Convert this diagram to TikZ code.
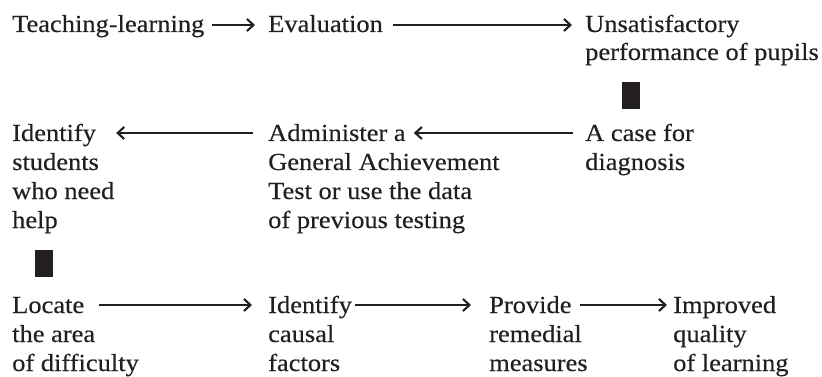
\documentclass[tikz,border=0pt]{standalone}
\usepackage{fontspec}
\setmainfont{Liberation Serif}[FakeStretch=1.08,FakeBold=0.35]
\usetikzlibrary{arrows.meta}
\definecolor{ink}{HTML}{231F20}
\begin{document}
\begin{tikzpicture}[x=1pt,y=-1pt,
  txt/.style={inner sep=0pt, anchor=base west, text=ink, font=\fontsize{24.5}{29}\selectfont},
  arr/.style={draw=ink, line width=1.6pt, -{Straight Barb[length=6.5pt,width=12pt,line width=2.1pt]}},
  blk/.style={fill=ink, draw=none, minimum width=18pt, minimum height=27pt, inner sep=0pt}]
\useasboundingbox (0,0) rectangle (822,377);
% row 1
\node[txt] (teach) at (12,32) {Teaching-learning};
\node[txt] (eval) at (268,32) {Evaluation};
\node[txt] (unsat) at (585,32) {Unsatisfactory};
\node[txt] (unsatb) at (585,60) {performance of pupils};
\node[blk] (d1) at (630.5,95.5) {};
% row 2
\node[txt] (case) at (585,141) {A case for};
\node[txt] (caseb) at (585,170) {diagnosis};
\node[txt] (admin) at (268,141) {Administer a};
\node[txt] (adminb) at (268,170) {General Achievement};
\node[txt] (adminc) at (268,199) {Test or use the data};
\node[txt] (admind) at (268,228) {of previous testing};
\node[txt] (ident) at (12,141) {Identify};
\node[txt] (identb) at (12,170) {students};
\node[txt] (identc) at (12,199) {who need};
\node[txt] (identd) at (12,228) {help};
\node[blk] (d2) at (44,263.5) {};
% row 3
\node[txt] (loc) at (12,313) {Locate};
\node[txt] (locb) at (12,342) {the area};
\node[txt] (locc) at (12,371) {of difficulty};
\node[txt] (cause) at (268,313) {Identify};
\node[txt] (causeb) at (268,342) {causal};
\node[txt] (causec) at (268,371) {factors};
\node[txt] (prov) at (489,313) {Provide};
\node[txt] (provb) at (489,342) {remedial};
\node[txt] (provc) at (489,371) {measures};
\node[txt] (impr) at (673,313) {Improved};
\node[txt] (imprb) at (673,342) {quality};
\node[txt] (imprc) at (673,371) {of learning};
% connectors
\draw[arr, shorten <=8pt, shorten >=13pt] ([yshift=7pt]teach.base east) -- ([yshift=7pt]eval.base west);
\draw[arr, shorten <=10pt, shorten >=13pt] ([yshift=7pt]eval.base east) -- ([yshift=7pt]unsat.base west);
\draw[arr, shorten <=12pt, shorten >=8pt] ([yshift=8pt]case.base west) -- ([yshift=8pt]admin.base east);
\draw[arr, shorten <=15pt, shorten >=20pt] ([yshift=8pt]admin.base west) -- ([yshift=8pt]ident.base east);
\draw[arr, shorten <=15pt, shorten >=16pt] ([yshift=8pt]loc.base east) -- ([yshift=8pt]cause.base west);
\draw[arr, shorten <=3pt, shorten >=18pt] ([yshift=8pt]cause.base east) -- ([yshift=8pt]prov.base west);
\draw[arr, shorten <=8pt, shorten >=6pt] ([yshift=8pt]prov.base east) -- ([yshift=8pt]impr.base west);
\end{tikzpicture}
\end{document}
